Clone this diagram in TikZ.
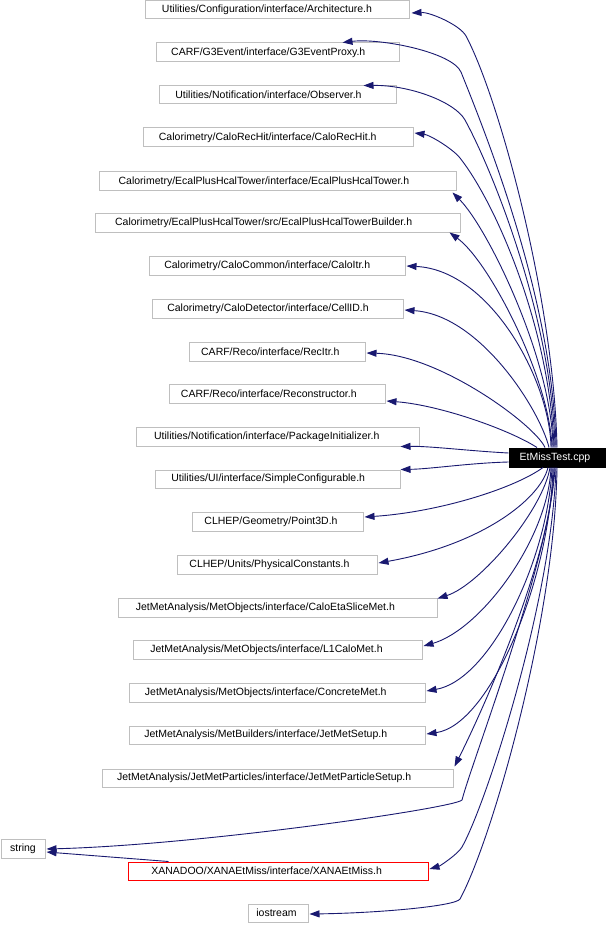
\documentclass[tikz,border=0pt]{standalone}
\usepackage{fontspec}
\setmainfont{Liberation Sans}
\usetikzlibrary{arrows.meta}
\definecolor{edgeblue}{HTML}{191970}
\definecolor{boxgray}{HTML}{BFBFBF}
\newcommand\hnode[7][hbox]{%
  \pgfmathsetmacro\hw{#5-#3}\pgfmathsetmacro\hh{#6-#4}%
  \pgfmathsetmacro\hcx{(#3+#5)/2}\pgfmathsetmacro\hcy{(#4+#6)/2}%
  \pgfmathsetmacro\hs{0.076*\hw}%
  \node[#1, minimum width=\hw pt, minimum height=\hh pt] (#2) at (\hcx,\hcy) {#7\hspace*{\hs pt}};}
\begin{document}
\begin{tikzpicture}[x=1pt,y=-1pt,
  hbox/.style={draw=boxgray, fill=white, line width=1pt, inner sep=0pt, font=\fontsize{10.5}{12}\selectfont},
  redbox/.style={hbox, draw=red},
  mainbox/.style={draw=black, fill=black, text=white, line width=1pt, inner sep=0pt, font=\fontsize{10.5}{12}\selectfont},
  edge/.style={draw=edgeblue, line width=0.9pt, -{Triangle[length=10pt,width=7pt]}}]
\useasboundingbox (0,0) rectangle (608,925);
\fill[white] (0,0) rectangle (608,925);

\hnode{n1}{145}{1}{409}{19}{Utilities/Configuration/interface/Architecture.h}
\hnode{n2}{156}{43}{399}{62}{CARF/G3Event/interface/G3EventProxy.h}
\hnode{n3}{159}{86}{396}{104}{Utilities/Notification/interface/Observer.h}
\hnode{n4}{143}{128}{413}{147}{Calorimetry/CaloRecHit/interface/CaloRecHit.h}
\hnode{n5}{99}{172}{456}{191}{Calorimetry/EcalPlusHcalTower/interface/EcalPlusHcalTower.h}
\hnode{n6}{95}{214}{460}{232}{Calorimetry/EcalPlusHcalTower/src/EcalPlusHcalTowerBuilder.h}
\hnode{n7}{149}{256}{405}{275}{Calorimetry/CaloCommon/interface/CaloItr.h}
\hnode{n8}{152}{299}{403}{318}{Calorimetry/CaloDetector/interface/CellID.h}
\hnode{n9}{189}{342}{365}{361}{CARF/Reco/interface/RecItr.h}
\hnode{n10}{169}{384}{385}{403}{CARF/Reco/interface/Reconstructor.h}
\hnode{n11}{136}{427}{419}{446}{Utilities/Notification/interface/PackageInitializer.h}
\hnode{n12}{155}{470}{400}{488}{Utilities/UI/interface/SimpleConfigurable.h}
\hnode{n13}{192}{512}{363}{531}{CLHEP/Geometry/Point3D.h}
\hnode{n14}{177}{555}{377}{574}{CLHEP/Units/PhysicalConstants.h}
\hnode{n15}{118}{598}{437}{617}{JetMetAnalysis/MetObjects/interface/CaloEtaSliceMet.h}
\hnode{n16}{133}{640}{422}{659}{JetMetAnalysis/MetObjects/interface/L1CaloMet.h}
\hnode{n17}{129}{683}{425}{702}{JetMetAnalysis/MetObjects/interface/ConcreteMet.h}
\hnode{n18}{129}{726}{425}{744}{JetMetAnalysis/MetBuilders/interface/JetMetSetup.h}
\hnode{n19}{102}{769}{453}{787}{JetMetAnalysis/JetMetParticles/interface/JetMetParticleSetup.h}
\hnode[redbox]{xana}{128}{862}{428}{880}{XANADOO/XANAEtMiss/interface/XANAEtMiss.h}
\node[hbox, minimum width=44pt, minimum height=19pt] (str) at (23,848.5) {string};
\node[hbox, minimum width=60pt, minimum height=18pt] (ios) at (278,913) {iostream\hspace*{3pt}};
\node[mainbox, minimum width=96pt, minimum height=19pt] (E) at (557,457.5) {EtMissTest.cpp\hspace*{4pt}};

% edges to upper headers
\draw[edge] (E.north) .. controls (554,300) and (499,98) .. (466,36) .. controls (460,25) and (430,12) .. ([shift={(2,3)}]n1.east);
\draw[edge] ([shift={(-1,0)}]E.north) .. controls (553,300) and (487,137) .. (461,72) .. controls (452,52) and (380,38) .. ([shift={(-57,0)}]n2.north east);
\draw[edge] ([shift={(-2,0)}]E.north) .. controls (552,320) and (494,173) .. (465,120) .. controls (455,102) and (410,85) .. ([shift={(-33,0)}]n3.north east);
\draw[edge] ([shift={(-3,0)}]E.north) .. controls (550,330) and (497,205) .. (460,158) .. controls (453,149) and (430,135) .. ([shift={(1,-4.5)}]n4.east);
\draw[edge] ([shift={(-4,0)}]E.north) .. controls (552,360) and (488,228) .. ([shift={(-4,1)}]n5.south east);
\draw[edge] ([shift={(-5,0)}]E.north) .. controls (550,380) and (490,262) .. ([shift={(-11,0)}]n6.south east);
\draw[edge] ([shift={(-6,0)}]E.north) .. controls (550,380) and (490,270) .. ([shift={(1,0.5)}]n7.east);
\draw[edge] ([shift={(-8,0)}]E.north) .. controls (540,410) and (480,315) .. ([shift={(1,1.5)}]n8.east);
\draw[edge] ([shift={(-12,0)}]E.north) .. controls (535,425) and (440,355) .. ([shift={(1,1.5)}]n9.east);
\draw[edge] ([shift={(-20,0)}]E.north) .. controls (510,430) and (440,405) .. ([shift={(1,7.5)}]n10.east);
% edges from the left side
\draw[edge] ([shift={(0,-4.5)}]E.west) .. controls (470,451) and (430,446) .. ([shift={(-19,0)}]n11.south east);
\draw[edge] ([shift={(0,4.5)}]E.west) .. controls (470,463) and (430,469) .. (n12.north east);
% edges to lower headers
\draw[edge] ([shift={(-14,0)}]E.south) .. controls (515,488) and (440,512) .. ([shift={(1,-4.5)}]n13.east);
\draw[edge] ([shift={(-9,0)}]E.south) .. controls (540,500) and (480,545) .. ([shift={(1,-1.5)}]n14.east);
\draw[edge] ([shift={(-7,0)}]E.south) .. controls (543,510) and (480,585) .. ([shift={(0,1)}]n15.north east);
\draw[edge] ([shift={(-6,0)}]E.south) .. controls (548,540) and (480,630) .. ([shift={(1,-3.5)}]n16.east);
\draw[edge] ([shift={(-5,0)}]E.south) .. controls (548,560) and (490,680) .. ([shift={(1,-1.5)}]n17.east);
\draw[edge] ([shift={(-4,0)}]E.south) .. controls (550,580) and (490,725) .. ([shift={(1,-1)}]n18.east);
\draw[edge] ([shift={(-3,0)}]E.south) .. controls (552,560) and (478,720) .. ([shift={(1,-2)}]n19.north east);
\draw[edge] ([shift={(-2,0)}]E.south) .. controls (550,560) and (472,761) .. (462,800) .. controls (455,808) and (200,845) .. ([shift={(1,0.5)}]str.east);
\draw[edge] ([shift={(-1,0)}]E.south) .. controls (552,600) and (486.5,803.5) .. (462,847) .. controls (458,854) and (440,866) .. ([shift={(1,-2)}]xana.east);
\draw[edge] (E.south) .. controls (555,620) and (492,840) .. (460,899) .. controls (456,906) and (380,913) .. ([shift={(1,1)}]ios.east);
\draw[edge] ([shift={(41,0)}]xana.north west) -- ([shift={(1,3.5)}]str.east);
\end{tikzpicture}
\end{document}
